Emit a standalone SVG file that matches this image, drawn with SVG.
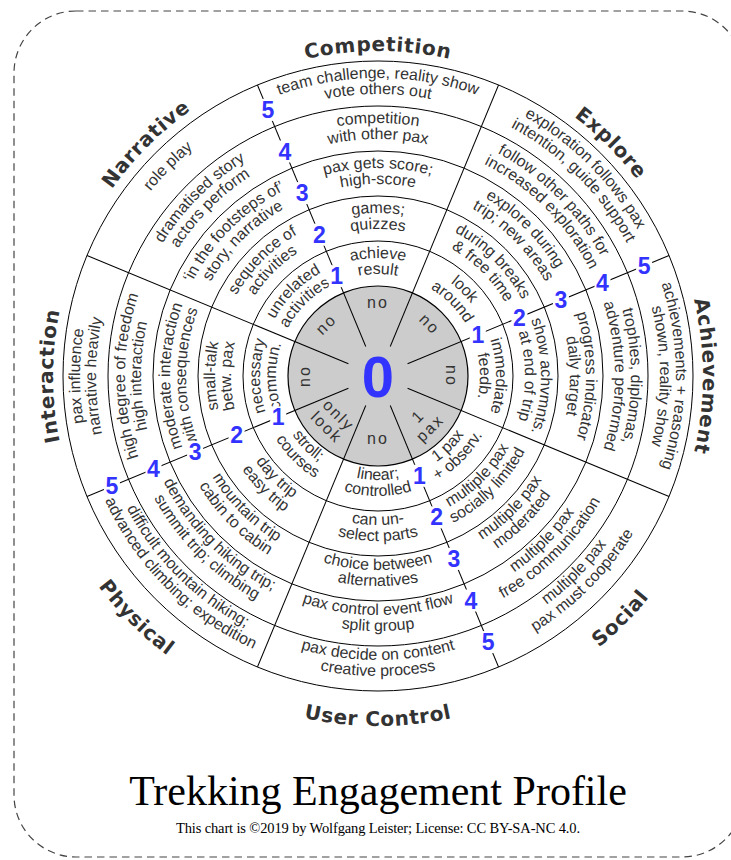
<svg xmlns="http://www.w3.org/2000/svg" width="731" height="860" viewBox="0 0 731 860">
<style>
.ring{fill:none;stroke:#000;stroke-width:1}
.div line{stroke:#000;stroke-width:1}
.t{font-family:"Liberation Sans",Arial,sans-serif;font-size:16px;fill:#333;text-anchor:middle}
.cat{font-family:"DejaVu Sans",sans-serif;font-weight:bold;font-size:20px;fill:#333;letter-spacing:0.7px;text-anchor:middle}
.num{font-family:"Liberation Sans",Arial,sans-serif;font-weight:bold;font-size:23px;fill:#3333ff;text-anchor:middle}
.nb{fill:#fff}
.in{font-family:"Liberation Sans",Arial,sans-serif;font-size:16px;fill:#333;letter-spacing:2px;text-anchor:middle}
</style>
<defs>
<path id="cw102" d="M378,478 A102,102 0 1 1 378,274 A102,102 0 1 1 378,478"/>
<path id="cw118" d="M378,494 A118,118 0 1 1 378,258 A118,118 0 1 1 378,494"/>
<path id="cw147" d="M378,523 A147,147 0 1 1 378,229 A147,147 0 1 1 378,523"/>
<path id="cw163" d="M378,539 A163,163 0 1 1 378,213 A163,163 0 1 1 378,539"/>
<path id="cw192" d="M378,568 A192,192 0 1 1 378,184 A192,192 0 1 1 378,568"/>
<path id="cw208" d="M378,584 A208,208 0 1 1 378,168 A208,208 0 1 1 378,584"/>
<path id="cw237" d="M378,613 A237,237 0 1 1 378,139 A237,237 0 1 1 378,613"/>
<path id="cw253" d="M378,629 A253,253 0 1 1 378,123 A253,253 0 1 1 378,629"/>
<path id="cw282" d="M378,658 A282,282 0 1 1 378,94 A282,282 0 1 1 378,658"/>
<path id="cw293" d="M378,669 A293,293 0 1 1 378,83 A293,293 0 1 1 378,669"/>
<path id="cw298" d="M378,674 A298,298 0 1 1 378,78 A298,298 0 1 1 378,674"/>
<path id="cw325" d="M378,701 A325,325 0 1 1 378,51 A325,325 0 1 1 378,701"/>
<path id="ccw104" d="M378,272 A104,104 0 1 0 378,480 A104,104 0 1 0 378,272"/>
<path id="ccw120" d="M378,256 A120,120 0 1 0 378,496 A120,120 0 1 0 378,256"/>
<path id="ccw149" d="M378,227 A149,149 0 1 0 378,525 A149,149 0 1 0 378,227"/>
<path id="ccw165" d="M378,211 A165,165 0 1 0 378,541 A165,165 0 1 0 378,211"/>
<path id="ccw194" d="M378,182 A194,194 0 1 0 378,570 A194,194 0 1 0 378,182"/>
<path id="ccw210" d="M378,166 A210,210 0 1 0 378,586 A210,210 0 1 0 378,166"/>
<path id="ccw239" d="M378,137 A239,239 0 1 0 378,615 A239,239 0 1 0 378,137"/>
<path id="ccw255" d="M378,121 A255,255 0 1 0 378,631 A255,255 0 1 0 378,121"/>
<path id="ccw284" d="M378,92 A284,284 0 1 0 378,660 A284,284 0 1 0 378,92"/>
<path id="ccw300" d="M378,76 A300,300 0 1 0 378,676 A300,300 0 1 0 378,76"/>
<path id="ccw350" d="M378,26 A350,350 0 1 0 378,726 A350,350 0 1 0 378,26"/>
</defs>

<rect x="14" y="11" width="730" height="846" rx="62" ry="62" fill="none" stroke="#444" stroke-width="1.2" stroke-dasharray="7.5 5"/>

<g id="rings">
<circle cx="378" cy="376" r="90" fill="#cccccc" stroke="#000" stroke-width="1.2"/>
<circle class="ring" cx="378" cy="376" r="135"/>
<circle class="ring" cx="378" cy="376" r="180"/>
<circle class="ring" cx="378" cy="376" r="225"/>
<circle class="ring" cx="378" cy="376" r="270"/>
<circle class="ring" cx="378" cy="376" r="315"/>
</g>

<g id="dividers" class="div">
<line x1="378" y1="344" x2="378" y2="61" transform="rotate(22.5 378 376)"/>
<line x1="378" y1="344" x2="378" y2="61" transform="rotate(67.5 378 376)"/>
<line x1="378" y1="344" x2="378" y2="61" transform="rotate(112.5 378 376)"/>
<line x1="378" y1="344" x2="378" y2="61" transform="rotate(157.5 378 376)"/>
<line x1="378" y1="344" x2="378" y2="61" transform="rotate(202.5 378 376)"/>
<line x1="378" y1="344" x2="378" y2="61" transform="rotate(247.5 378 376)"/>
<line x1="378" y1="344" x2="378" y2="61" transform="rotate(292.5 378 376)"/>
<line x1="378" y1="344" x2="378" y2="61" transform="rotate(337.5 378 376)"/>
</g>

<g id="center">
<text class="in" x="378" y="308">no</text>
<text class="in" x="378" y="308" transform="rotate(45 378 376)">no</text>
<text class="in" x="378" y="308" transform="rotate(90 378 376)">no</text>
<text class="in" x="378" y="308" transform="rotate(-45 378 376)">no</text>
<text class="in" x="378" y="308" transform="rotate(-90 378 376)">no</text>
<text class="in" x="378" y="444">no</text>
<g transform="rotate(-45 378 376)"><text class="in" x="378" y="438">1</text><text class="in" x="378" y="455">pax</text></g>
<g transform="rotate(45 378 376)"><text class="in" x="378" y="437">only</text><text class="in" x="378" y="454">look</text></g>
</g>

<g id="competition">
<text class="cat"><textPath href="#cw325" startOffset="50%">Competition</textPath></text>
<text class="t"><textPath href="#cw118" startOffset="50%">achieve</textPath></text>
<text class="t"><textPath href="#cw102" startOffset="50%">result</textPath></text>
<text class="t"><textPath href="#cw163" startOffset="50%">games;</textPath></text>
<text class="t"><textPath href="#cw147" startOffset="50%">quizzes</textPath></text>
<text class="t"><textPath href="#cw208" startOffset="50%">pax gets score;</textPath></text>
<text class="t"><textPath href="#cw192" startOffset="50%">high-score</textPath></text>
<text class="t"><textPath href="#cw253" startOffset="50%">competition</textPath></text>
<text class="t"><textPath href="#cw237" startOffset="50%">with other pax</textPath></text>
<text class="t"><textPath href="#cw298" startOffset="50%">team challenge, reality show</textPath></text>
<text class="t"><textPath href="#cw282" startOffset="50%">vote others out</textPath></text>
</g>

<g id="explore">
<text class="cat"><textPath href="#cw325" startOffset="62.5%">Explore</textPath></text>
<text class="t"><textPath href="#cw118" startOffset="62.5%">look</textPath></text>
<text class="t"><textPath href="#cw102" startOffset="62.5%">around</textPath></text>
<text class="t"><textPath href="#cw163" startOffset="62.5%">during breaks</textPath></text>
<text class="t"><textPath href="#cw147" startOffset="62.5%">&amp; free time</textPath></text>
<text class="t"><textPath href="#cw208" startOffset="62.5%">explore during</textPath></text>
<text class="t"><textPath href="#cw192" startOffset="62.5%">trip; new areas</textPath></text>
<text class="t"><textPath href="#cw253" startOffset="62.5%">follow other paths for</textPath></text>
<text class="t"><textPath href="#cw237" startOffset="62.5%">increased exploration</textPath></text>
<text class="t"><textPath href="#cw298" startOffset="62.5%">exploration follows pax</textPath></text>
<text class="t"><textPath href="#cw282" startOffset="62.5%">intention, guide support</textPath></text>
</g>

<g id="achievement">
<text class="cat"><textPath href="#cw325" startOffset="75%">Achievement</textPath></text>
<text class="t"><textPath href="#cw118" startOffset="75%">immediate</textPath></text>
<text class="t"><textPath href="#cw102" startOffset="75%">feedb.</textPath></text>
<text class="t"><textPath href="#cw163" startOffset="75%">show achvmnts.</textPath></text>
<text class="t"><textPath href="#cw147" startOffset="75%">at end of trip</textPath></text>
<text class="t"><textPath href="#cw208" startOffset="75%">progress indicator</textPath></text>
<text class="t"><textPath href="#cw192" startOffset="75%">daily target</textPath></text>
<text class="t"><textPath href="#cw253" startOffset="75%">trophies, diplomas,</textPath></text>
<text class="t"><textPath href="#cw237" startOffset="75%">adventure performed</textPath></text>
<text class="t"><textPath href="#cw298" startOffset="75%">achievements + reasoning</textPath></text>
<text class="t"><textPath href="#cw282" startOffset="75%">shown, reality show</textPath></text>
</g>

<g id="interaction">
<text class="cat"><textPath href="#cw325" startOffset="25%">Interaction</textPath></text>
<text class="t"><textPath href="#cw118" startOffset="25%">necessary</textPath></text>
<text class="t"><textPath href="#cw102" startOffset="25%">commun.</textPath></text>
<text class="t"><textPath href="#cw163" startOffset="25%">small-talk</textPath></text>
<text class="t"><textPath href="#cw147" startOffset="25%">betw. pax</textPath></text>
<text class="t"><textPath href="#cw208" startOffset="25%">moderate interaction</textPath></text>
<text class="t"><textPath href="#cw192" startOffset="25%">with consequences</textPath></text>
<text class="t"><textPath href="#cw253" startOffset="25%">high degree of freedom</textPath></text>
<text class="t"><textPath href="#cw237" startOffset="25%">high interaction</textPath></text>
<text class="t"><textPath href="#cw298" startOffset="25%">pax influence</textPath></text>
<text class="t"><textPath href="#cw282" startOffset="25%">narrative heavily</textPath></text>
</g>

<g id="narrative">
<text class="cat"><textPath href="#cw325" startOffset="37.5%">Narrative</textPath></text>
<text class="t"><textPath href="#cw118" startOffset="37.5%">unrelated</textPath></text>
<text class="t"><textPath href="#cw102" startOffset="37.5%">activities</textPath></text>
<text class="t"><textPath href="#cw163" startOffset="37.5%">sequence of</textPath></text>
<text class="t"><textPath href="#cw147" startOffset="37.5%">activities</textPath></text>
<text class="t"><textPath href="#cw208" startOffset="37.5%">‘in the footsteps of’</textPath></text>
<text class="t"><textPath href="#cw192" startOffset="37.5%">story, narrative</textPath></text>
<text class="t"><textPath href="#cw253" startOffset="37.5%">dramatised story</textPath></text>
<text class="t"><textPath href="#cw237" startOffset="37.5%">actors perform</textPath></text>
<text class="t"><textPath href="#cw293" startOffset="37.5%">role play</textPath></text>
</g>

<g id="social">
<text class="cat"><textPath href="#ccw350" startOffset="62.5%">Social</textPath></text>
<text class="t"><textPath href="#ccw104" startOffset="62.5%">1 pax</textPath></text>
<text class="t"><textPath href="#ccw120" startOffset="62.5%">+ observ.</textPath></text>
<text class="t"><textPath href="#ccw149" startOffset="62.5%">multiple pax</textPath></text>
<text class="t"><textPath href="#ccw165" startOffset="62.5%">socially limited</textPath></text>
<text class="t"><textPath href="#ccw194" startOffset="62.5%">multiple pax</textPath></text>
<text class="t"><textPath href="#ccw210" startOffset="62.5%">moderated</textPath></text>
<text class="t"><textPath href="#ccw239" startOffset="62.5%">multiple pax</textPath></text>
<text class="t"><textPath href="#ccw255" startOffset="62.5%">free communication</textPath></text>
<text class="t"><textPath href="#ccw284" startOffset="62.5%">multiple pax</textPath></text>
<text class="t"><textPath href="#ccw300" startOffset="62.5%">pax must cooperate</textPath></text>
</g>

<g id="user-control">
<text class="cat"><textPath href="#ccw350" startOffset="50%">User Control</textPath></text>
<text class="t"><textPath href="#ccw104" startOffset="50%">linear;</textPath></text>
<text class="t"><textPath href="#ccw120" startOffset="50%">controlled</textPath></text>
<text class="t"><textPath href="#ccw149" startOffset="50%">can un-</textPath></text>
<text class="t"><textPath href="#ccw165" startOffset="50%">select parts</textPath></text>
<text class="t"><textPath href="#ccw194" startOffset="50%">choice between</textPath></text>
<text class="t"><textPath href="#ccw210" startOffset="50%">alternatives</textPath></text>
<text class="t"><textPath href="#ccw239" startOffset="50%">pax control event flow</textPath></text>
<text class="t"><textPath href="#ccw255" startOffset="50%">split group</textPath></text>
<text class="t"><textPath href="#ccw284" startOffset="50%">pax decide on content</textPath></text>
<text class="t"><textPath href="#ccw300" startOffset="50%">creative process</textPath></text>
</g>

<g id="physical">
<text class="cat"><textPath href="#ccw350" startOffset="37.5%">Physical</textPath></text>
<text class="t"><textPath href="#ccw104" startOffset="37.5%">stroll;</textPath></text>
<text class="t"><textPath href="#ccw120" startOffset="37.5%">courses</textPath></text>
<text class="t"><textPath href="#ccw149" startOffset="37.5%">day trip</textPath></text>
<text class="t"><textPath href="#ccw165" startOffset="37.5%">easy trip</textPath></text>
<text class="t"><textPath href="#ccw194" startOffset="37.5%">mountain trip</textPath></text>
<text class="t"><textPath href="#ccw210" startOffset="37.5%">cabin to cabin</textPath></text>
<text class="t"><textPath href="#ccw239" startOffset="37.5%">demanding hiking trip;</textPath></text>
<text class="t"><textPath href="#ccw255" startOffset="37.5%">summit trip; climbing</textPath></text>
<text class="t"><textPath href="#ccw284" startOffset="37.5%">difficult mountain hiking;</textPath></text>
<text class="t"><textPath href="#ccw300" startOffset="37.5%">advanced climbing; expedition</textPath></text>
</g>

<g id="levels">
<g transform="translate(336.7,276.2)"><rect class="nb" x="-8" y="-11" width="16" height="22"/><text class="num" y="8">1</text></g>
<g transform="translate(319.5,234.7)"><rect class="nb" x="-8" y="-11" width="16" height="22"/><text class="num" y="8">2</text></g>
<g transform="translate(302.2,193.1)"><rect class="nb" x="-8" y="-11" width="16" height="22"/><text class="num" y="8">3</text></g>
<g transform="translate(285,151.5)"><rect class="nb" x="-8" y="-11" width="16" height="22"/><text class="num" y="8">4</text></g>
<g transform="translate(267.8,109.9)"><rect class="nb" x="-8" y="-11" width="16" height="22"/><text class="num" y="8">5</text></g>

<g transform="translate(477.8,334.7)"><rect class="nb" x="-8" y="-11" width="16" height="22"/><text class="num" y="8">1</text></g>
<g transform="translate(519.4,317.5)"><rect class="nb" x="-8" y="-11" width="16" height="22"/><text class="num" y="8">2</text></g>
<g transform="translate(560.9,300.2)"><rect class="nb" x="-8" y="-11" width="16" height="22"/><text class="num" y="8">3</text></g>
<g transform="translate(602.5,283)"><rect class="nb" x="-8" y="-11" width="16" height="22"/><text class="num" y="8">4</text></g>
<g transform="translate(644.1,265.8)"><rect class="nb" x="-8" y="-11" width="16" height="22"/><text class="num" y="8">5</text></g>

<g transform="translate(419.3,475.8)"><rect class="nb" x="-8" y="-11" width="16" height="22"/><text class="num" y="8">1</text></g>
<g transform="translate(436.6,517.4)"><rect class="nb" x="-8" y="-11" width="16" height="22"/><text class="num" y="8">2</text></g>
<g transform="translate(453.8,558.9)"><rect class="nb" x="-8" y="-11" width="16" height="22"/><text class="num" y="8">3</text></g>
<g transform="translate(471,600.5)"><rect class="nb" x="-8" y="-11" width="16" height="22"/><text class="num" y="8">4</text></g>
<g transform="translate(488.2,642.1)"><rect class="nb" x="-8" y="-11" width="16" height="22"/><text class="num" y="8">5</text></g>

<g transform="translate(278.2,417.3)"><rect class="nb" x="-8" y="-11" width="16" height="22"/><text class="num" y="8">1</text></g>
<g transform="translate(236.6,434.6)"><rect class="nb" x="-8" y="-11" width="16" height="22"/><text class="num" y="8">2</text></g>
<g transform="translate(195.1,451.8)"><rect class="nb" x="-8" y="-11" width="16" height="22"/><text class="num" y="8">3</text></g>
<g transform="translate(153.5,469)"><rect class="nb" x="-8" y="-11" width="16" height="22"/><text class="num" y="8">4</text></g>
<g transform="translate(111.9,486.2)"><rect class="nb" x="-8" y="-11" width="16" height="22"/><text class="num" y="8">5</text></g>
</g>

<text x="378" y="397" font-family="Liberation Sans, Arial, sans-serif" font-weight="bold" font-size="58" fill="#3333ff" text-anchor="middle">0</text>

<g id="title">
<text x="378" y="805" font-family="Liberation Serif, Times New Roman, serif" font-size="42" fill="#000" text-anchor="middle">Trekking Engagement Profile</text>
<text x="378" y="833" font-family="Liberation Serif, Times New Roman, serif" font-size="14.5" fill="#000" text-anchor="middle" textLength="404" lengthAdjust="spacing">This chart is ©2019 by Wolfgang Leister; License: CC BY-SA-NC 4.0.</text>
</g>
</svg>
